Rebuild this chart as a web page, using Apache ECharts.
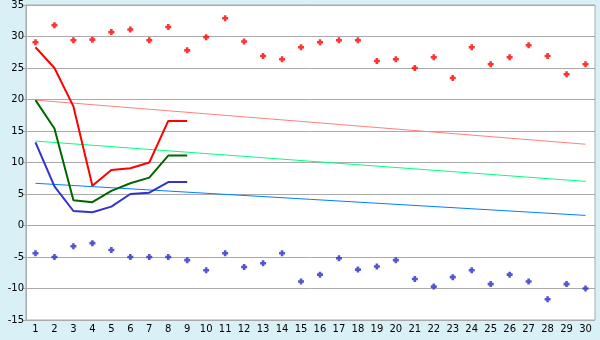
<!DOCTYPE html>
<html>
<head>
<meta charset="utf-8">
<script src="https://cdn.jsdelivr.net/npm/echarts@6/dist/echarts.min.js"></script>
<style>
html,body{margin:0;padding:0;background:#daf0f7;}
#c{width:600px;height:340px;}
</style>
</head>
<body>
<div id="c"></div>
<script>
var categories = ['1','2','3','4','5','6','7','8','9','10','11','12','13','14','15','16','17','18','19','20','21','22','23','24','25','26','27','28','29','30'];
var maxPoints = [29.1,31.8,29.4,29.5,30.7,31.1,29.4,31.5,27.8,29.9,32.9,29.2,26.9,26.4,28.3,29.1,29.4,29.4,26.1,26.4,25.0,26.7,23.4,28.3,25.6,26.7,28.6,26.9,24.0,25.6];
var minPoints = [-4.4,-5.0,-3.3,-2.8,-3.9,-5.0,-5.0,-5.0,-5.5,-7.1,-4.4,-6.6,-6.0,-4.4,-8.9,-7.8,-5.2,-7.0,-6.5,-5.5,-8.5,-9.7,-8.2,-7.1,-9.3,-7.8,-8.9,-11.7,-9.3,-10.0];
var redLine = [28.3,25.0,18.9,6.3,8.8,9.1,10.0,16.6,16.6];
var greenLine = [19.9,15.4,4.0,3.7,5.5,6.7,7.6,11.1,11.1];
var blueLine = [13.2,6.2,2.3,2.1,3.0,5.0,5.2,6.9,6.9];
// trend lines: start (day 1) and end (day 30) values
var redTrend = [19.9,12.9];
var greenTrend = [13.4,7.0];
var blueTrend = [6.7,1.6];
var yMin = -15, yMax = 35, yStep = 5;

function trend(ends){
  var a = categories.map(function(){return null;});
  a[0] = ends[0]; a[a.length-1] = ends[1];
  return a;
}
var plus = 'path://M2,0h3v2h2v3h-2v2h-3v-2h-2v-3h2z';
var chart = echarts.init(document.getElementById('c'), null, {renderer:'canvas'});
chart.setOption({
  backgroundColor:'#daf0f7',
  animation:false,
  grid:{left:26,right:5,top:5,bottom:20,show:true,backgroundColor:'#ffffff',borderColor:'#aaaaaa',borderWidth:1},
  xAxis:{type:'category',data:categories,boundaryGap:true,
    axisLine:{lineStyle:{color:'#aaaaaa',width:1}},
    axisTick:{alignWithLabel:true,length:5,lineStyle:{color:'#000000'}},
    axisLabel:{color:'#000000',fontFamily:'DejaVu Sans',fontSize:10,margin:4,interval:0},
    splitLine:{show:false}},
  yAxis:{type:'value',min:yMin,max:yMax,interval:yStep,
    axisLine:{show:true,lineStyle:{color:'#aaaaaa'}},
    axisTick:{show:true,length:4,lineStyle:{color:'#aaaaaa'}},
    axisLabel:{color:'#000000',fontFamily:'DejaVu Sans',fontSize:10,margin:2},
    splitLine:{lineStyle:{color:'#aaaaaa',width:1}}},
  series:[
    {type:'line',data:trend(redTrend),connectNulls:true,symbol:'none',lineStyle:{color:'#ff8080',width:1},z:2},
    {type:'line',data:trend(greenTrend),connectNulls:true,symbol:'none',lineStyle:{color:'#00ff80',width:1},z:2},
    {type:'line',data:trend(blueTrend),connectNulls:true,symbol:'none',lineStyle:{color:'#0080ff',width:1},z:2},
    {type:'line',data:redLine,symbol:'none',lineStyle:{color:'#ff0000',width:2},z:3},
    {type:'line',data:greenLine,symbol:'none',lineStyle:{color:'#006600',width:2},z:3},
    {type:'line',data:blueLine,symbol:'none',lineStyle:{color:'#3333cc',width:2},z:3},
    {type:'scatter',data:maxPoints,symbol:plus,symbolSize:6,itemStyle:{color:'#ff0000'},z:4},
    {type:'scatter',data:minPoints,symbol:plus,symbolSize:6,itemStyle:{color:'#2a2ac8'},z:4}
  ]
});
</script>
</body>
</html>
